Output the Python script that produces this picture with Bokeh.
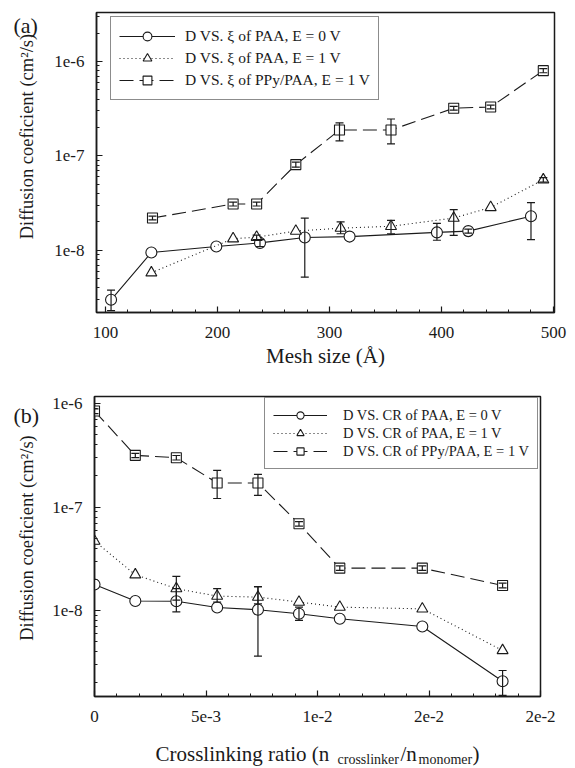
import math
from bokeh.plotting import figure
from bokeh.models import (Range1d, FixedTicker, CustomJSTickFormatter, Legend, LegendItem,
                          Whisker, TeeHead, ColumnDataSource)
from bokeh.core.properties import value
from bokeh.layouts import column, row
from bokeh.embed import file_html
from bokeh.resources import INLINE

FONT = "Liberation Serif"
INK = "#1a1a1a"

# ---------------- Panel (a): D vs mesh size ----------------
a_circ_x = [105, 141, 199, 238, 278, 318, 396, 424, 480]
a_circ_y = [3.0e-9, 9.5e-9, 1.1e-8, 1.2e-8, 1.37e-8, 1.4e-8, 1.55e-8, 1.6e-8, 2.3e-8]
a_circ_lo = [2.3e-9, 9.5e-9, 1.1e-8, 1.1e-8, 5.2e-9, 1.4e-8, 1.28e-8, 1.52e-8, 1.3e-8]
a_circ_hi = [3.8e-9, 9.5e-9, 1.1e-8, 1.3e-8, 2.2e-8, 1.4e-8, 1.93e-8, 1.68e-8, 3.2e-8]

a_tri_x = [141, 214, 235, 270, 310, 355, 411, 444, 491]
a_tri_y = [5.8e-9, 1.33e-8, 1.38e-8, 1.6e-8, 1.72e-8, 1.8e-8, 2.2e-8, 2.85e-8, 5.6e-8]
a_tri_lo = [5.8e-9, 1.33e-8, 1.3e-8, 1.6e-8, 1.5e-8, 1.5e-8, 1.44e-8, 2.85e-8, 5.3e-8]
a_tri_hi = [5.8e-9, 1.33e-8, 1.45e-8, 1.6e-8, 2.0e-8, 2.08e-8, 2.7e-8, 2.85e-8, 5.9e-8]

a_sq_x = [142, 214, 235, 270, 309, 355, 411, 444, 491]
a_sq_y = [2.2e-8, 3.1e-8, 3.1e-8, 8.1e-8, 1.88e-7, 1.88e-7, 3.2e-7, 3.3e-7, 8.0e-7]
a_sq_lo = [2.1e-8, 2.95e-8, 2.95e-8, 7.6e-8, 1.44e-7, 1.34e-7, 3.05e-7, 3.15e-7, 7.6e-7]
a_sq_hi = [2.3e-8, 3.25e-8, 3.25e-8, 8.6e-8, 2.24e-7, 2.46e-7, 3.35e-7, 3.45e-7, 8.4e-7]

a_labels = ["D VS. \u03be of PAA, E = 0 V", "D VS. \u03be of PAA, E = 1 V",
            "D VS. \u03be of PPy/PAA, E = 1 V"]
a_xticks = [100, 200, 300, 400, 500]

# ---------------- Panel (b): D vs crosslinking ratio ----------------
b_x = [0.0, 0.00183, 0.00367, 0.0055, 0.00733, 0.00917, 0.011, 0.0147, 0.0183]
b_circ_y = [1.79e-8, 1.24e-8, 1.23e-8, 1.07e-8, 1.02e-8, 9.33e-9, 8.35e-9, 7.03e-9, 2.08e-9]
b_circ_lo = [1.79e-8, 1.24e-8, 9.7e-9, 1.07e-8, 3.63e-9, 8.04e-9, 8.35e-9, 7.03e-9, 1.52e-9]
b_circ_hi = [1.79e-8, 1.24e-8, 1.63e-8, 1.07e-8, 1.69e-8, 1.08e-8, 8.35e-9, 7.03e-9, 2.64e-9]

b_tri_y = [4.69e-8, 2.22e-8, 1.63e-8, 1.38e-8, 1.35e-8, 1.21e-8, 1.08e-8, 1.04e-8, 4.12e-9]
b_tri_lo = [4.69e-8, 2.22e-8, 1.26e-8, 1.21e-8, 1.16e-8, 1.21e-8, 1.08e-8, 1.04e-8, 4.12e-9]
b_tri_hi = [4.69e-8, 2.22e-8, 2.14e-8, 1.63e-8, 1.71e-8, 1.21e-8, 1.08e-8, 1.04e-8, 4.12e-9]

b_sq_y = [8.47e-7, 3.16e-7, 3.0e-7, 1.71e-7, 1.71e-7, 6.9e-8, 2.57e-8, 2.57e-8, 1.75e-8]
b_sq_lo = [8.0e-7, 3.0e-7, 2.85e-7, 1.21e-7, 1.3e-7, 6.55e-8, 2.45e-8, 2.45e-8, 1.66e-8]
b_sq_hi = [8.9e-7, 3.3e-7, 3.15e-7, 2.26e-7, 2.07e-7, 7.25e-8, 2.7e-8, 2.7e-8, 1.84e-8]

b_labels = ["D VS. CR of PAA, E = 0 V", "D VS. CR of PAA, E = 1 V",
            "D VS. CR of PPy/PAA, E = 1 V"]
b_xticks = [0.0, 0.005, 0.01, 0.015, 0.02]

y_title = "Diffusion coeficient (cm\u00b2/s)"

log_major = [1e-9, 1e-8, 1e-7, 1e-6, 1e-5]
log_minor = [m * 10.0 ** e for e in range(-10, -5) for m in range(2, 10)]

log_fmt = CustomJSTickFormatter(code="return '1e' + Math.round(Math.log(tick) / Math.LN10);")
sci_fmt = CustomJSTickFormatter(code="""
if (tick == 0) { return '0'; }
var e = Math.floor(Math.log(Math.abs(tick)) / Math.LN10 + 1e-9);
var m = Math.round(tick / Math.pow(10, e));
if (m >= 10) { m = 1; e += 1; }
return m + 'e' + e;
""")


def style(p):
    p.outline_line_color = INK
    p.outline_line_width = 1.5
    p.xgrid.visible = False
    p.ygrid.visible = False
    p.background_fill_color = "white"
    p.border_fill_color = "white"
    for ax in (p.xaxis[0], p.yaxis[0]):
        ax.axis_line_color = INK
        ax.axis_line_width = 1.5
        ax.major_tick_in = 6
        ax.major_tick_out = 0
        ax.minor_tick_in = 3
        ax.minor_tick_out = 0
        ax.major_tick_line_color = INK
        ax.minor_tick_line_color = INK
        ax.major_tick_line_width = 1.2
        ax.minor_tick_line_width = 1
        ax.major_label_text_font = FONT
        ax.major_label_text_font_size = "17px"
        ax.major_label_text_color = INK
        ax.axis_label_text_font = FONT
        ax.axis_label_text_font_size = "21px"
        ax.axis_label_text_font_style = "normal"
        ax.axis_label_text_color = INK
    p.xaxis[0].major_label_standoff = 14
    p.yaxis[0].major_label_standoff = 12


def series(p, x, y, lo, hi, marker, size, dash):
    src = ColumnDataSource(dict(x=x, y=y))
    ln = p.line("x", "y", source=src, line_color=INK, line_width=1.1, line_dash=dash)
    mk = p.scatter("x", "y", source=src, marker=marker, size=size,
                   fill_color="white", line_color=INK, line_width=1.1)
    idx = [i for i in range(len(x)) if hi[i] > lo[i]]
    esrc = ColumnDataSource(dict(base=[x[i] for i in idx],
                                 lower=[lo[i] for i in idx],
                                 upper=[hi[i] for i in idx]))
    w = Whisker(base="base", lower="lower", upper="upper", source=esrc,
                dimension="height", line_color=INK, line_width=1.2, level="overlay",
                upper_head=TeeHead(size=8, line_color=INK, line_width=1.2),
                lower_head=TeeHead(size=8, line_color=INK, line_width=1.2))
    p.add_layout(w)
    return [ln, mk]


def text_panel(w, h):
    f = figure(width=w, height=h, x_range=Range1d(0, w), y_range=Range1d(0, h),
               output_backend="svg", toolbar_location=None, title=None,
               min_border_left=0, min_border_right=0, min_border_top=0, min_border_bottom=0,
               x_axis_location=None, y_axis_location=None)
    f.outline_line_color = None
    f.grid.visible = False
    f.background_fill_color = "white"
    f.border_fill_color = "white"
    return f


def put_text(f, txt, x, y_from_top, size, angle=0.0, align="left", baseline="alphabetic"):
    h = f.height
    f.text(x=[x], y=[h - y_from_top], text=[txt], angle=angle,
           text_font=value(FONT), text_font_size=value(size), text_color=INK,
           text_align=align, text_baseline=baseline)


# ---------------- row (a) ----------------
la = text_panel(40, 382)
put_text(la, "(a)", 13, 16, "22px")
put_text(la, y_title, 26, 158, "18.5px", angle=math.pi / 2, align="center", baseline="middle")

pa = figure(width=535, height=382, y_axis_type="log",
            x_range=Range1d(92, 501), y_range=Range1d(2.2e-9, 3.3e-6),
            output_backend="svg", toolbar_location=None,
            min_border_left=56, min_border_right=21, min_border_top=12, min_border_bottom=70)
style(pa)
pa.xaxis[0].ticker = FixedTicker(ticks=a_xticks, minor_ticks=list(range(100, 501, 20)))
pa.yaxis[0].ticker = FixedTicker(ticks=log_major, minor_ticks=log_minor)
pa.yaxis[0].formatter = log_fmt
pa.xaxis[0].axis_label = "Mesh size (\u00c5)"
pa.xaxis[0].axis_label_standoff = 3

ra1 = series(pa, a_circ_x, a_circ_y, a_circ_lo, a_circ_hi, "circle", 11, "solid")
ra2 = series(pa, a_tri_x, a_tri_y, a_tri_lo, a_tri_hi, "triangle", 11, "1 3")
ra3 = series(pa, a_sq_x, a_sq_y, a_sq_lo, a_sq_hi, "square", 10, "14 6")

lega = Legend(items=[LegendItem(label=a_labels[0], renderers=ra1),
                     LegendItem(label=a_labels[1], renderers=ra2),
                     LegendItem(label=a_labels[2], renderers=ra3)],
              location=(14, 212), margin=0, padding=8, spacing=0,
              glyph_width=56, glyph_height=22, label_height=22, label_standoff=10,
              label_text_font=FONT, label_text_font_size="15.5px", label_text_color=INK,
              border_line_color=INK, border_line_width=1.5, background_fill_alpha=1.0)
pa.add_layout(lega)

# ---------------- row (b) ----------------
lb = text_panel(40, 354)
put_text(lb, "(b)", 13, 23, "22px")
put_text(lb, y_title, 26, 167, "18.5px", angle=math.pi / 2, align="center", baseline="middle")

pb = figure(width=535, height=354, y_axis_type="log",
            x_range=Range1d(0.0, 0.02), y_range=Range1d(1.48e-9, 1.17e-6),
            output_backend="svg", toolbar_location=None,
            min_border_left=54, min_border_right=35, min_border_top=14, min_border_bottom=40)
style(pb)
pb.xaxis[0].ticker = FixedTicker(ticks=b_xticks, minor_ticks=[i * 0.001 for i in range(0, 21)])
pb.xaxis[0].formatter = sci_fmt
pb.yaxis[0].ticker = FixedTicker(ticks=log_major, minor_ticks=log_minor)
pb.yaxis[0].formatter = log_fmt

rb1 = series(pb, b_x, b_circ_y, b_circ_lo, b_circ_hi, "circle", 11, "solid")
rb2 = series(pb, b_x, b_tri_y, b_tri_lo, b_tri_hi, "triangle", 11, "1 3")
rb3 = series(pb, b_x, b_sq_y, b_sq_lo, b_sq_hi, "square", 10, "14 6")

legb = Legend(items=[LegendItem(label=b_labels[0], renderers=rb1),
                     LegendItem(label=b_labels[1], renderers=rb2),
                     LegendItem(label=b_labels[2], renderers=rb3)],
              location=(170, 227), margin=0, padding=8, spacing=0,
              glyph_width=54, glyph_height=18, label_height=18, label_standoff=16,
              label_text_font=FONT, label_text_font_size="14.5px", label_text_color=INK,
              border_line_color=INK, border_line_width=1.5, background_fill_alpha=1.0)
pb.add_layout(legb)

# ---------------- x-axis title of (b), with subscripts ----------------
xb = text_panel(575, 31)
xlab_parts = [("Crosslinking ratio (n", 155, 17, "21px"),
              ("crosslinker", 337, 23, "14px"),
              ("/n", 400, 17, "21px"),
              ("monomer", 418, 23, "14px"),
              (")", 472, 17, "21px")]
for txt, xs, ys, fs in xlab_parts:
    put_text(xb, txt, xs, ys, fs)

layout = column(row(la, pa), row(lb, pb), xb)
open("out.html", "w").write(file_html(layout, INLINE))
